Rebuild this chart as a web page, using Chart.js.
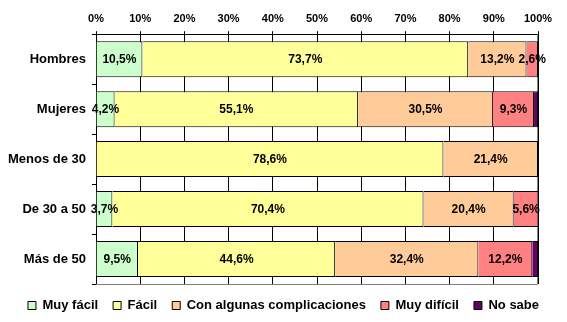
<!DOCTYPE html>
<html>
<head>
<meta charset="utf-8">
<script src="https://cdn.jsdelivr.net/npm/chart.js@4/dist/chart.umd.min.js"></script>
<style>
  html, body { margin: 0; padding: 0; background: #fff; }
  #wrap { width: 567px; height: 322px; }
</style>
</head>
<body>
<div id="wrap"><canvas id="chart" width="567" height="322"></canvas></div>
<script>
// categories and series (percent)
const categories = ['Hombres', 'Mujeres', 'Menos de 30', 'De 30 a 50', 'Más de 50'];
const seriesNames = ['Muy fácil', 'Fácil', 'Con algunas complicaciones', 'Muy difícil', 'No sabe'];
const muyFacil = [10.5, 4.2, 0, 3.7, 9.5];
const facil = [73.7, 55.1, 78.6, 70.4, 44.6];
const conAlgunas = [13.2, 30.5, 21.4, 20.4, 32.4];
const muyDificil = [2.6, 9.3, 0, 5.6, 12.2];
const noSabe = [0, 0.9, 0, 0, 1.3];
const xTicks = [0, 10, 20, 30, 40, 50, 60, 70, 80, 90, 100];

const colors = ['#CCFFCC', '#FFFF99', '#FFCC99', '#FF8080', '#660066'];
const FONT = '"Liberation Sans", Arial, sans-serif';

// labels inside the bars (not for "No sabe")
const barLabels = {
    id: 'barLabels',
    afterDatasetsDraw(chart) {
        const ctx = chart.ctx;
        ctx.save();
        ctx.font = 'bold 12px ' + FONT;
        ctx.fillStyle = '#000';
        ctx.textAlign = 'center';
        ctx.textBaseline = 'middle';
        chart.data.datasets.forEach((ds, i) => {
            if (i === 4) return;
            chart.getDatasetMeta(i).data.forEach((bar, j) => {
                const v = ds.data[j];
                if (!v) return;
                const cx = (bar.x + bar.base) / 2;
                ctx.fillText(v.toFixed(1).replace('.', ',') + '%', cx, bar.y + 1);
            });
        });
        ctx.restore();
    }
};

// grey bottom and right edges of the plot area
const plotFrame = {
    id: 'plotFrame',
    beforeDatasetsDraw(chart) {
        const a = chart.chartArea;
        const ctx = chart.ctx;
        const b = Math.round(a.bottom) + 0.5;
        const r = Math.round(a.right) - 0.5;
        ctx.save();
        ctx.strokeStyle = '#808080';
        ctx.lineWidth = 1;
        ctx.beginPath();
        ctx.moveTo(a.left, b);
        ctx.lineTo(r, b);
        ctx.lineTo(r, a.top);
        ctx.stroke();
        ctx.restore();
    }
};

const allSeries = [muyFacil, facil, conAlgunas, muyDificil, noSabe];

new Chart(document.getElementById('chart').getContext('2d'), {
    type: 'bar',
    data: {
        labels: categories,
        datasets: allSeries.map((d, i) => ({
            label: seriesNames[i],
            data: d,
            backgroundColor: colors[i],
            borderColor: '#000',
            borderWidth: 1,
            borderSkipped: 'start',
            categoryPercentage: 0.72,
            barPercentage: 1
        }))
    },
    options: {
        indexAxis: 'y',
        responsive: false,
        animation: false,
        devicePixelRatio: 1,
        layout: { padding: { top: 6, right: 0, left: 0, bottom: 0 } },
        scales: {
            x: {
                position: 'top',
                stacked: true,
                min: 0,
                max: 100,
                afterBuildTicks: (s) => { s.ticks = xTicks.map(v => ({ value: v })); },
                afterFit: (s) => { s.paddingRight = 29; },
                ticks: {
                    color: '#000',
                    font: { family: FONT, size: 11, weight: 'bold' },
                    padding: 6,
                    callback: (v) => v + '%'
                },
                grid: { color: '#000', lineWidth: 1, tickLength: 3 },
                border: { color: '#000' }
            },
            y: {
                stacked: true,
                afterFit: (s) => { s.width = 96; },
                ticks: {
                    color: '#000',
                    font: { family: FONT, size: 13, weight: 'bold' },
                    padding: 6
                },
                grid: { drawOnChartArea: false, color: '#000', tickLength: 4, offset: true },
                border: { color: '#000' }
            }
        },
        plugins: {
            legend: {
                position: 'bottom',
                maxHeight: 38,
                labels: {
                    color: '#000',
                    font: { family: FONT, size: 13, weight: 'bold' },
                    boxWidth: 8,
                    boxHeight: 8,
                    padding: 15
                }
            },
            tooltip: { enabled: false }
        }
    },
    plugins: [barLabels, plotFrame]
});
</script>
</body>
</html>
